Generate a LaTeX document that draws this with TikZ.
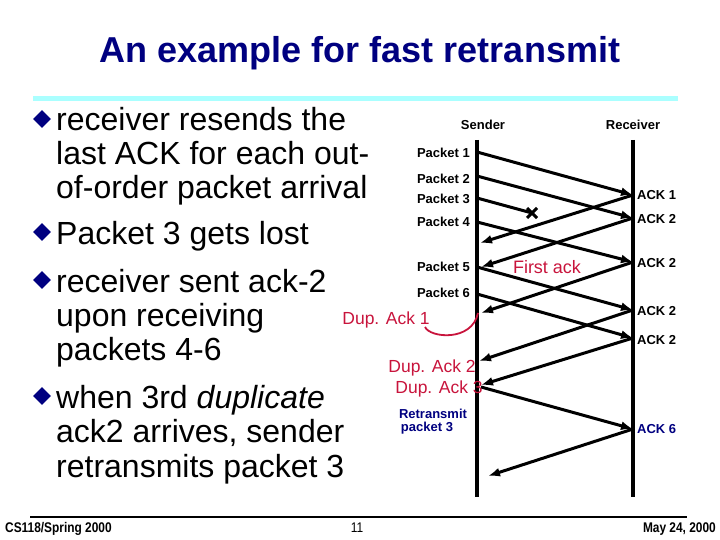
\documentclass[tikz,border=0pt]{standalone}
\usepackage{fontspec}
\setmainfont{Liberation Sans}
\newfontfamily\footfont{Liberation Sans}[FakeStretch=0.85]
\usepackage{tikz}
\usetikzlibrary{
  arrows.meta,
  shapes.geometric,
  positioning
}
\definecolor{titleblue}{RGB}{0,0,128}
\definecolor{rulecyan}{RGB}{170,255,255}
\definecolor{dupred}{RGB}{200,20,60}
\tikzset{>={Latex[length=12pt,width=9pt]}}
\tikzset{
  lifeline/.style={line width=3.2pt},
  msg/.style={->, line width=3pt},
  bul/.style={diamond, fill=titleblue, inner sep=0pt, minimum width=18pt, minimum height=18pt},
  bigtext/.style={anchor=base west, inner sep=0pt, font=\fontsize{32}{34}\selectfont},
  small/.style={font=\fontsize{13}{15}\selectfont\bfseries, inner sep=1pt},
  duptext/.style={font=\fontsize{17.5}{19}\selectfont, text=dupred, inner sep=0pt},
  foot/.style={font=\footfont\fontsize{14}{16}\selectfont\bfseries, inner sep=0pt}
}

\begin{document}
\begin{tikzpicture}[x=1pt, y=-1pt]
  \useasboundingbox (0,0) rectangle (720,540);
  % title and rule
  \node[anchor=base, inner sep=0pt, text=titleblue, font=\fontsize{36}{40}\selectfont\bfseries]
    (title) at (360,63) {An example for fast retransmit};
  \draw[rulecyan, line width=5pt] (33,99) -- (678,99);

  % bullet list
  \foreach \y/\t [count=\i] in {131/receiver resends the, 165/last ACK for each out-,
      199/of-order packet arrival, 244/Packet 3 gets lost, 292/receiver sent ack-2,
      326/upon receiving, 360/packets 4-6, 408/when 3rd \textit{duplicate},
      442/{ack2 arrives, sender}, 477/retransmits packet 3}
    \node[bigtext] (line\i) at (56,\y) {\t};
  \foreach \i in {1,4,5,8}
    \node[bul] (bul\i) at ([xshift=-14pt, yshift=12pt]line\i.base west) {};

  % sender and receiver
  \node[small] (snd) at (483,125) {Sender};
  \node[small] (rcv) at (633,125) {Receiver};
  \coordinate (sTop) at (477,140);
  \coordinate (sBot) at (477,497);
  \coordinate (rTop) at (633,140);
  \coordinate (rBot) at (633,497);
  \draw[lifeline] (sTop) -- (sBot);
  \draw[lifeline] (rTop) -- (rBot);

  % packets
  \foreach \n/\y in {1/153,2/179,3/199,4/222,5/267,6/293}
    \node[small, anchor=east] (plab\n) at (471,\y) {Packet \n};
  \foreach \n/\sy/\ry in {1/152/195,2/176/218,4/222/262,5/267/310,6/294/338}{
    \coordinate (pkt\n s) at (477,\sy);
    \coordinate (pkt\n r) at (633,\ry);
    \draw[msg] (pkt\n s) -- (pkt\n r);
  }
  \coordinate (pkt3s) at (477,198);
  \coordinate (lost) at (532,213);
  \draw[line width=3pt] (pkt3s) -- (lost);
  \draw[line width=3pt] (527,208) -- (537,218) (527,218) -- (537,208);

  % acks
  \foreach \n/\ry/\sx/\sy in {a/195/480/243,b/218/481/267,c/262/481/313,d/310/479/361,e/338/481/385,f/429/488/476}{
    \coordinate (ack\n r) at (633,\ry);
    \coordinate (ack\n s) at (\sx,\sy);
    \draw[msg] (ack\n r) -- (ack\n s);
  }
  \foreach \n/\y/\t in {a/195/ACK 1,b/219/ACK 2,c/263/ACK 2,d/311/ACK 2,e/340/ACK 2}
    \node[small, anchor=west] (alab\n) at (636,\y) {\t};
  \node[small, anchor=west, text=titleblue] (alabf) at (636,429) {ACK 6};

  % retransmission
  \coordinate (re3s) at (481,387);
  \coordinate (re3r) at (633,429);
  \draw[msg] (re3s) -- (re3r);

  % notes
  \node[font=\fontsize{18}{20}\selectfont, text=dupred, inner sep=0pt] (first) at (547,267) {First ack};
  \node[duptext] (dup1) at (386,320) {Dup. Ack 1};
  \node[duptext] (dup2) at (432,368) {Dup. Ack 2};
  \node[duptext] (dup3) at (439,389) {Dup. Ack 3};
  \draw[dupred, line width=1.8pt] (425,327) .. controls (430,338) and (472,342) .. (478,313);
  \node[small, text=titleblue, inner sep=0pt] (retx) at (433,414) {Retransmit};
  \node[small, text=titleblue, inner sep=0pt] (retx3) at (427,428) {packet 3};

  % footer
  \draw[line width=2pt] (30,517) -- (687,517);
  \node[foot, anchor=west] (course) at (5,529) {CS118/Spring 2000};
  \node[font=\footfont\fontsize{14}{16}\selectfont, inner sep=0pt] (page) at (357,528) {11};
  \node[foot, anchor=east] (date) at (716,529) {May 24, 2000};
\end{tikzpicture}
\end{document}
